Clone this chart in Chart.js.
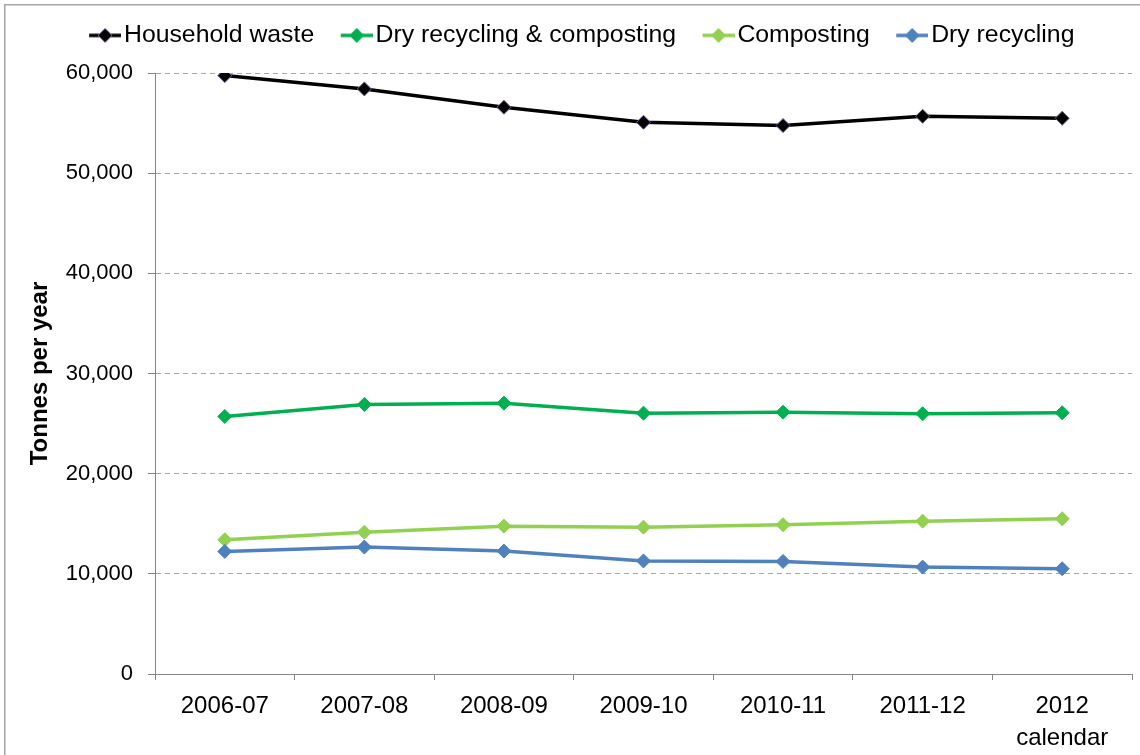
<!DOCTYPE html>
<html lang="en">

<head>
  <meta charset="UTF-8">
  <title>Household waste</title>
  <script src="https://cdn.jsdelivr.net/npm/chart.js"></script>
  <style>
    body {
      margin: 0;
      padding: 0;
      background: #fff;
    }

    .wrap {
      position: relative;
      width: 1140px;
      height: 755px;
    }
  </style>
</head>

<body>
  <div class="wrap">
    <canvas id="wasteChart"></canvas>
  </div>
  <script>
    // data
    const categories = ['2006-07', '2007-08', '2008-09', '2009-10', '2010-11', '2011-12', ['2012', 'calendar']];
    const householdWaste = [59740, 58410, 56580, 55080, 54750, 55680, 55480];
    const dryRecComposting = [25710, 26910, 27040, 26040, 26140, 25980, 26080];
    const composting = [13400, 14160, 14760, 14660, 14900, 15260, 15500];
    const dryRecycling = [12240, 12670, 12270, 11290, 11240, 10670, 10510];
    const yTicks = { min: 0, max: 60000, step: 10000 };

    const FONT = '"Liberation Sans", Arial, sans-serif';

    // little line + diamond image for the legend (visible part at right end)
    function legendMarker(lineColor, fill, stroke) {
      const c = document.createElement('canvas');
      c.width = 64;
      c.height = 20;
      const g = c.getContext('2d');
      g.strokeStyle = lineColor;
      g.lineWidth = 3.5;
      g.beginPath();
      g.moveTo(32, 10);
      g.lineTo(64, 10);
      g.stroke();
      g.beginPath();
      g.moveTo(48, 3);
      g.lineTo(55, 10);
      g.lineTo(48, 17);
      g.lineTo(41, 10);
      g.closePath();
      g.fillStyle = fill;
      g.fill();
      g.lineWidth = 1;
      g.strokeStyle = stroke;
      g.stroke();
      return c;
    }

    const series = [
      { label: 'Household waste', data: householdWaste, color: '#000000', pointFill: '#000000', pointBorder: '#6f5a96', order: 3 },
      { label: 'Dry recycling & composting', data: dryRecComposting, color: '#00b050', pointFill: '#00b050', pointBorder: '#00b050', order: 2 },
      { label: 'Composting', data: composting, color: '#92d050', pointFill: '#92d050', pointBorder: '#92d050', order: 1 },
      { label: 'Dry recycling', data: dryRecycling, color: '#4f81bd', pointFill: '#4f81bd', pointBorder: '#4f81bd', order: 0 },
    ];

    const markers = series.map(s => legendMarker(s.color, s.pointFill, s.pointBorder));

    const frame = {
      id: 'frame',
      beforeInit(chart) {
        // push the plot down so it starts at the same place as the reference
        const fit = chart.legend.fit;
        chart.legend.fit = function () {
          fit.call(this);
          this.height = 54;
        };
      },
      afterLayout(chart) {
        // legend row sits a little right of centre in the reference
        chart.legend.left += 3;
        chart.legend.right += 3;
      },
      beforeDraw(chart) {
        const ctx = chart.ctx;
        ctx.save();
        ctx.fillStyle = '#fff';
        ctx.fillRect(0, 0, chart.width, chart.height);
        ctx.strokeStyle = '#a6a6a6';
        ctx.lineWidth = 1.5;
        ctx.beginPath();
        ctx.moveTo(4.75, chart.height + 5);
        ctx.lineTo(4.75, 4.75);
        ctx.lineTo(chart.width + 5, 4.75);
        ctx.stroke();
        ctx.restore();
      }
    };

    const chartObj = {
      type: 'line',
      data: {
        labels: categories,
        datasets: series.map(s => ({
          label: s.label,
          data: s.data,
          order: s.order,
          borderColor: s.color,
          backgroundColor: s.pointFill,
          borderWidth: 3.5,
          tension: 0,
          pointStyle: 'rectRot',
          pointRadius: 7,
          pointHoverRadius: 7,
          pointBackgroundColor: s.pointFill,
          pointBorderColor: s.pointBorder,
          pointBorderWidth: 1,
        }))
      },
      options: {
        responsive: true,
        maintainAspectRatio: false,
        animation: false,
        layout: {
          padding: { top: 19, left: 0, right: 5, bottom: 0 }
        },
        plugins: {
          legend: {
            position: 'top',
            labels: {
              usePointStyle: true,
              pointStyleWidth: 45,
              padding: 4,
              color: '#000',
              font: { family: FONT, size: 24.8 },
              generateLabels(chart) {
                return chart.data.datasets.map((ds, i) => ({
                  text: ds.label,
                  datasetIndex: i,
                  pointStyle: markers[i],
                  fillStyle: ds.borderColor,
                  strokeStyle: ds.borderColor,
                  lineWidth: 0,
                  hidden: false,
                  fontColor: '#000',
                }));
              }
            }
          },
          tooltip: { enabled: false }
        },
        scales: {
          x: {
            type: 'category',
            offset: true,
            grid: {
              offset: true,
              drawOnChartArea: false,
              tickLength: 6,
              color: '#868686',
            },
            border: { color: '#868686', width: 1 },
            ticks: {
              color: '#000',
              padding: 11,
              autoSkip: false,
              maxRotation: 0,
              font: { family: FONT, size: 24, lineHeight: 1.32 }
            },
            afterFit(scale) {
              scale.height = 81;
            }
          },
          y: {
            min: yTicks.min,
            max: yTicks.max,
            grid: {
              color: ctx => (ctx.tick && ctx.tick.value === 0 ? 'rgba(0,0,0,0)' : '#a6a6a6'),
              tickColor: '#868686',
              tickLength: 7,
            },
            border: { color: '#868686', width: 1, dash: [5, 4] },
            ticks: {
              stepSize: yTicks.step,
              color: '#000',
              padding: 15,
              font: { family: FONT, size: 22 }
            },
            title: {
              display: true,
              text: 'Tonnes per year',
              color: '#000',
              padding: { top: 26, bottom: 0 },
              font: { family: FONT, size: 24, weight: 'bold' }
            },
            afterFit(scale) {
              scale.width = 155;
            }
          }
        }
      },
      plugins: [frame]
    };

    new Chart(document.getElementById('wasteChart'), chartObj);
  </script>
</body>

</html>
